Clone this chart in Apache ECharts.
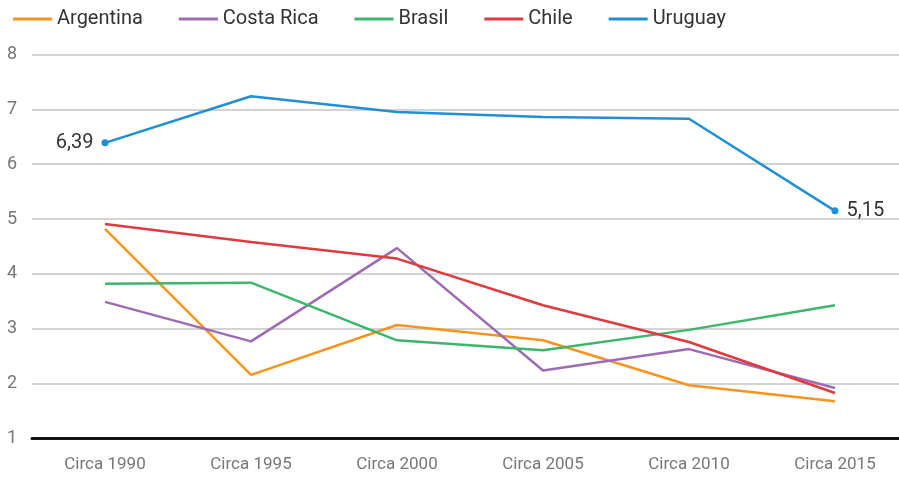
<!DOCTYPE html>
<html>
<head>
<meta charset="utf-8">
<script src="https://cdn.jsdelivr.net/npm/echarts@6/dist/echarts.min.js"></script>
<style>
  html, body { margin: 0; padding: 0; background: #fff; }
  #main { width: 899px; height: 479px; }
</style>
</head>
<body>
<div id="main"></div>
<script>
// datos
const categories = ['Circa 1990', 'Circa 1995', 'Circa 2000', 'Circa 2005', 'Circa 2010', 'Circa 2015']
const argentina = [4.82, 2.16, 3.07, 2.79, 1.97, 1.68]
const costaRica = [3.49, 2.77, 4.47, 2.24, 2.63, 1.92]
const brasil = [3.82, 3.84, 2.79, 2.61, 2.98, 3.43]
const chile = [4.91, 4.58, 4.28, 3.43, 2.76, 1.83]
const uruguay = [6.39, 7.24, 6.95, 6.86, 6.83, 5.15]
const yTicks = [1, 2, 3, 4, 5, 6, 7, 8]

const myChart = echarts.init(document.getElementById('main'))

function lineSeries (name, color, data) {
  return {
    name: name,
    type: 'line',
    data: data,
    symbol: 'none',
    lineStyle: { width: 2.5, color: color },
    itemStyle: { color: color }
  }
}

// Uruguay: punto y etiqueta solo en el primero y el último
const uruguayData = uruguay.map((v, i) => {
  const last = uruguay.length - 1
  if (i !== 0 && i !== last) return v
  return {
    value: v,
    symbol: 'circle',
    symbolSize: 7,
    label: {
      show: true,
      position: i === 0 ? 'left' : 'right',
      distance: 8,
      fontSize: 20,
      color: '#333',
      fontFamily: 'Roboto',
      formatter: (p) => p.value.toFixed(2).replace('.', ',')
    }
  }
})

const uru = lineSeries('Uruguay', '#1f8fd6', uruguayData)
uru.symbol = 'circle'
uru.showSymbol = true
uru.symbolSize = 0

myChart.setOption({
  animation: false,
  textStyle: { fontFamily: 'Roboto' },
  legend: {
    left: 8,
    top: 4,
    icon: 'rect',
    itemWidth: 39,
    itemHeight: 3,
    itemGap: 36,
    textStyle: { fontSize: 20, color: '#333' },
    data: ['Argentina', 'Costa Rica', 'Brasil', 'Chile', 'Uruguay']
  },
  grid: {
    left: 32,
    top: 54.5,
    right: -9,
    bottom: 40.5,
    containLabel: false,
    outerBoundsMode: 'none'
  },
  xAxis: {
    type: 'category',
    data: categories,
    boundaryGap: true,
    axisLine: { lineStyle: { color: '#111', width: 3 } },
    axisTick: { show: false },
    axisLabel: { fontSize: 17, color: '#777', margin: 18 }
  },
  yAxis: {
    type: 'value',
    min: yTicks[0],
    max: yTicks[yTicks.length - 1],
    interval: 1,
    axisLine: { show: false },
    axisTick: { show: false },
    axisLabel: { fontSize: 18, color: '#777', margin: 15 },
    splitLine: { lineStyle: { color: '#c4c4c4', width: 1.5 } }
  },
  series: [
    lineSeries('Argentina', '#f7931e', argentina),
    lineSeries('Costa Rica', '#9e6ab2', costaRica),
    lineSeries('Brasil', '#3cb66a', brasil),
    lineSeries('Chile', '#e03a3e', chile),
    uru
  ]
})
</script>
</body>
</html>
